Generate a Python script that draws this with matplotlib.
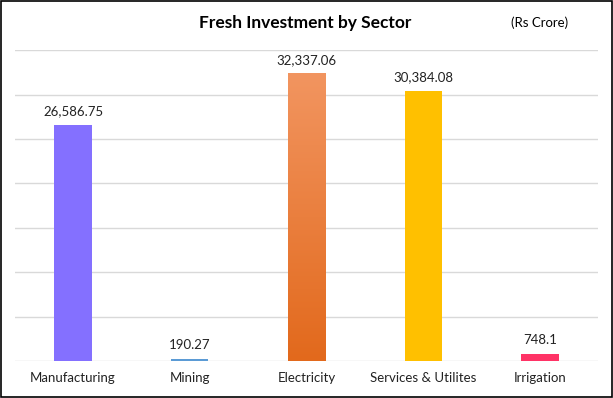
import numpy as np
import matplotlib.pyplot as plt
from matplotlib.colors import LinearSegmentedColormap

plt.rcParams['font.family'] = ['Lato', 'DejaVu Sans']

sectors = ['Manufacturing', 'Mining', 'Electricity', 'Services & Utilites', 'Irrigation']
values = [26586.75, 190.27, 32337.06, 30384.08, 748.1]
labels = ['26,586.75', '190.27', '32,337.06', '30,384.08', '748.1']
colors = ['#8470FF', '#5B9BD5', '#ED7D31', '#FFC000', '#FF3366']

fig = plt.figure(figsize=(6.13, 3.98), dpi=100)
ax = fig.add_axes([0.024, 0.093, 0.952, 0.781])

x = np.arange(len(sectors))
width = 0.32
bars = ax.bar(x, values, width=width, color=colors, zorder=2)

# gradient on the Electricity bar
grad = LinearSegmentedColormap.from_list('el', ['#E2691C', '#F29560'])
b = bars[2]
b.set_facecolor('none')
ax.imshow(np.linspace(0, 1, 256).reshape(-1, 1), cmap=grad, aspect='auto', origin='lower',
          extent=(b.get_x(), b.get_x() + b.get_width(), 0, b.get_height()), zorder=2)

for xi, v, lab in zip(x, values, labels):
    ax.text(xi, v + 900, lab, ha='center', va='bottom', fontsize=9.5, color='#222222')

ax.set_xlim(-0.5, len(sectors) - 0.5)
ax.set_ylim(0, 35000)
ax.set_yticks(np.arange(0, 35001, 5000))
ax.yaxis.grid(True, color='#D9D9D9', linewidth=1, zorder=1)
ax.set_axisbelow(True)
ax.tick_params(axis='y', left=False, labelleft=False)
ax.tick_params(axis='x', length=0, pad=8, labelsize=9.5, labelcolor='#222222')
ax.set_xticks(x)
ax.set_xticklabels(sectors)
for s in ax.spines.values():
    s.set_visible(False)

fig.text(0.498, 0.942, 'Fresh Investment by Sector', ha='center', va='center',
         fontsize=12.5, fontweight='bold')
fig.text(0.881, 0.942, '(Rs Crore)', ha='center', va='center', fontsize=9.5)

fig.patches.append(plt.Rectangle((0.001, 0.002), 0.997, 0.995, transform=fig.transFigure,
                                 fill=False, edgecolor='black', linewidth=1.2))

fig.savefig('out.png', dpi=100)
